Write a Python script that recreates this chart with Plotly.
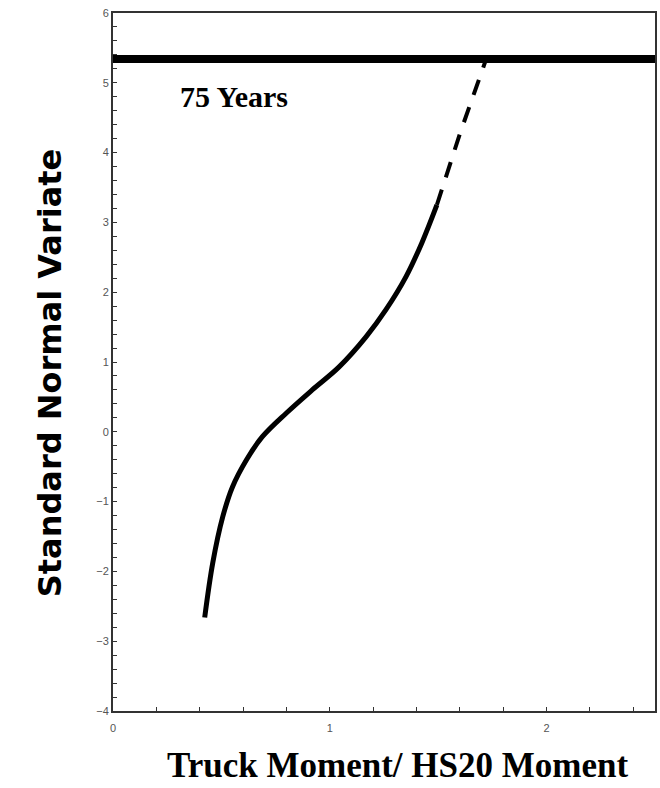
import plotly.graph_objects as go

# Solid part of the curve (Truck Moment / HS20 Moment vs standard normal variate)
curve_x = [0.423, 0.460, 0.506, 0.551, 0.616, 0.689, 0.800, 0.919, 1.043, 1.167, 1.259, 1.351, 1.425, 1.494]
curve_y = [-2.66, -1.88, -1.22, -0.79, -0.40, -0.07, 0.27, 0.60, 0.93, 1.36, 1.75, 2.22, 2.71, 3.25]

# Dashed extrapolation
ext_x = [1.494, 1.600, 1.719]
ext_y = [3.25, 4.27, 5.32]

# 75-year level
level_y = 5.34
level_x = [0, 2.5]
level_label = "75 Years"

x_ticks = [0, 1, 2]
y_ticks = [-4, -3, -2, -1, 0, 1, 2, 3, 4, 5, 6]

fig = go.Figure()
fig.add_trace(go.Scatter(x=level_x, y=[level_y, level_y], mode="lines",
                         line=dict(color="black", width=8), showlegend=False, hoverinfo="skip"))
fig.add_trace(go.Scatter(x=curve_x, y=curve_y, mode="lines",
                         line=dict(color="black", width=5, shape="spline"), showlegend=False))
fig.add_trace(go.Scatter(x=ext_x, y=ext_y, mode="lines",
                         line=dict(color="black", width=4, dash="16px,13px"), showlegend=False))

axis_common = dict(showgrid=False, zeroline=False, showline=True, linecolor="#333",
                   linewidth=1.8, mirror=True, ticks="inside", ticklen=4, tickcolor="#333",
                   tickfont=dict(family="Liberation Sans", size=11, color="#555"))

fig.update_xaxes(range=[0, 2.5], tickvals=x_ticks, ticklabelstandoff=6,
                 minor=dict(dtick=0.2, tick0=0, ticks="inside", ticklen=4, tickcolor="#333"),
                 **axis_common)
fig.update_yaxes(range=[-4, 6], tickvals=y_ticks,
                 minor=dict(dtick=0.2, tick0=0, ticks="inside", ticklen=4, tickcolor="#333"),
                 **axis_common)

fig.add_annotation(x=0.556, y=4.80, xref="x", yref="y", text=level_label, showarrow=False,
                   xanchor="center", yanchor="middle",
                   font=dict(family="Liberation Serif", size=30, color="black", weight="bold"))
fig.add_annotation(x=0.524, y=-0.0775, xref="paper", yref="paper",
                   text="Truck Moment/ HS20 Moment", showarrow=False,
                   xanchor="center", yanchor="middle",
                   font=dict(family="Liberation Serif", size=35, color="black", weight="bold"))
fig.add_annotation(x=-0.116, y=0.484, xref="paper", yref="paper",
                   text="Standard Normal Variate", showarrow=False, textangle=-90,
                   xanchor="center", yanchor="middle",
                   font=dict(family="DejaVu Sans", size=32, color="black", weight="bold"))

fig.update_layout(width=660, height=788, margin=dict(l=113, r=3, t=13, b=77),
                  plot_bgcolor="white", paper_bgcolor="white")

fig.write_html("out.html")
